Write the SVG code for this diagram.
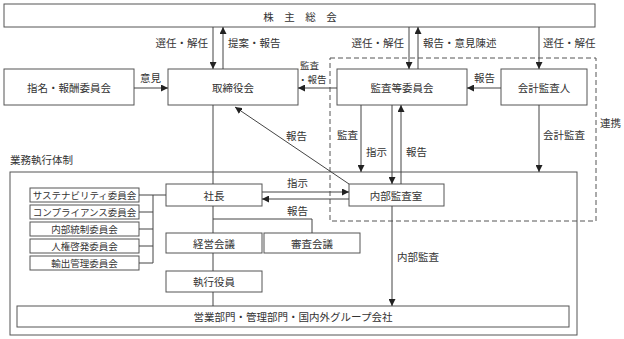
<svg xmlns="http://www.w3.org/2000/svg" width="624" height="339" viewBox="0 0 624 339">
<defs>
<marker id="ah" viewBox="0 0 10 10" refX="10" refY="5" markerWidth="7" markerHeight="7" markerUnits="userSpaceOnUse" orient="auto">
<path d="M0,0 L10,5 L0,10 z" fill="#222"/>
</marker>
<style>
.b{fill:#fff;stroke:#555;stroke-width:1}
.t{font-family:"Noto Sans CJK JP","Noto Sans CJK SC",sans-serif;font-size:10.5px;fill:#333}
.s{font-size:9.5px}
.c{text-anchor:middle;dominant-baseline:central}
.l{fill:none;stroke:#444;stroke-width:1}
.a{fill:none;stroke:#444;stroke-width:1;marker-end:url(#ah)}
</style>
</defs>
<rect width="624" height="339" fill="#fff"/>
<g id="gyomu">
<rect x="10" y="172" width="567" height="163" fill="none" stroke="#555"/>
<text class="t" x="10" y="164">業務執行体制</text>
</g>
<g id="renkei">
<rect x="330" y="58" width="266" height="163" fill="none" stroke="#555" stroke-dasharray="5,3"/>
<text class="t" x="600" y="127">連携</text>
</g>
<g id="kabunushi"><rect class="b" x="4" y="4" width="591" height="23"/><text class="t c" x="300" y="16" xml:space="preserve">株　主　総　会</text></g>
<g id="shimei"><rect class="b" x="4" y="69" width="130" height="36"/><text class="t c" x="69" y="87">指名・報酬委員会</text></g>
<g id="torishimariyaku"><rect class="b" x="168" y="69" width="130" height="36"/><text class="t c" x="233" y="87">取締役会</text></g>
<g id="kansa"><rect class="b" x="337" y="69" width="130" height="36"/><text class="t c" x="402" y="87">監査等委員会</text></g>
<g id="kaikei"><rect class="b" x="501" y="69" width="86" height="36"/><text class="t c" x="544" y="87">会計監査人</text></g>
<g id="naibu"><rect class="b" x="349" y="184" width="95" height="22"/><text class="t c" x="396" y="195">内部監査室</text></g>
<g id="shacho"><rect class="b" x="166" y="184" width="96" height="22"/><text class="t c" x="214" y="195">社長</text></g>
<g id="keiei"><rect class="b" x="166" y="233" width="96" height="20"/><text class="t c" x="214" y="243">経営会議</text></g>
<g id="shinsa"><rect class="b" x="264" y="233" width="96" height="20"/><text class="t c" x="312" y="243">審査会議</text></g>
<g id="shikko"><rect class="b" x="166" y="271" width="96" height="21"/><text class="t c" x="214" y="281.5">執行役員</text></g>
<g id="eigyo"><rect class="b" x="17" y="306" width="552" height="21"/><text class="t c" x="293" y="316.5">営業部門・管理部門・国内外グループ会社</text></g>
<g id="c1"><rect class="b" x="30" y="188" width="109" height="14"/><text class="t s c" x="84.5" y="195">サステナビリティ委員会</text></g>
<g id="c2"><rect class="b" x="30" y="205" width="109" height="14"/><text class="t s c" x="84.5" y="212">コンプライアンス委員会</text></g>
<g id="c3"><rect class="b" x="30" y="222" width="109" height="14"/><text class="t s c" x="84.5" y="229">内部統制委員会</text></g>
<g id="c4"><rect class="b" x="30" y="239" width="109" height="14"/><text class="t s c" x="84.5" y="246">人権啓発委員会</text></g>
<g id="c5"><rect class="b" x="30" y="256" width="109" height="14"/><text class="t s c" x="84.5" y="263">輸出管理委員会</text></g>
<g id="connectors">
<path class="a" d="M213,27 V69"/>
<path class="a" d="M223,69 V27"/>
<path class="a" d="M409,27 V69"/>
<path class="a" d="M418,69 V27"/>
<path class="a" d="M539,27 V69"/>
<path class="a" d="M134,88 H168"/>
<path class="a" d="M337,88 H298"/>
<path class="a" d="M501,88 H467"/>
<path class="a" d="M361,105 V172"/>
<path class="a" d="M392,105 V184"/>
<path class="a" d="M401,184 V105"/>
<path class="a" d="M539,105 V172"/>
<path class="a" d="M349,184 L235,107"/>
<path class="a" d="M262,192 H349"/>
<path class="a" d="M349,199 H262"/>
<path class="a" d="M392,206 V306"/>
<path class="l" d="M213,105 V184"/>
<path class="l" d="M213,206 V233 M213,219 H312 V233"/>
<path class="l" d="M213,253 V271 M213,292 V306"/>
<path class="l" d="M139,195 H166 M153,195 V263 M139,212 H153 M139,229 H153 M139,246 H153 M139,263 H153"/>
</g>
<g id="labels">
<text class="t" x="208" y="47" text-anchor="end">選任・解任</text>
<text class="t" x="228" y="47">提案・報告</text>
<text class="t" x="404" y="47" text-anchor="end">選任・解任</text>
<text class="t" x="423" y="47">報告・意見陳述</text>
<text class="t" x="543" y="47">選任・解任</text>
<text class="t" x="140" y="82">意見</text>
<text class="t s" x="300" y="69">監査</text>
<text class="t s" x="298" y="82.5">・報告</text>
<text class="t" x="474" y="82">報告</text>
<text class="t" x="286" y="140">報告</text>
<text class="t" x="337" y="139">監査</text>
<text class="t" x="366" y="156">指示</text>
<text class="t" x="406" y="156">報告</text>
<text class="t" x="543" y="139">会計監査</text>
<text class="t" x="287" y="187">指示</text>
<text class="t" x="287" y="215">報告</text>
<text class="t" x="397" y="261">内部監査</text>
</g>
</svg>
